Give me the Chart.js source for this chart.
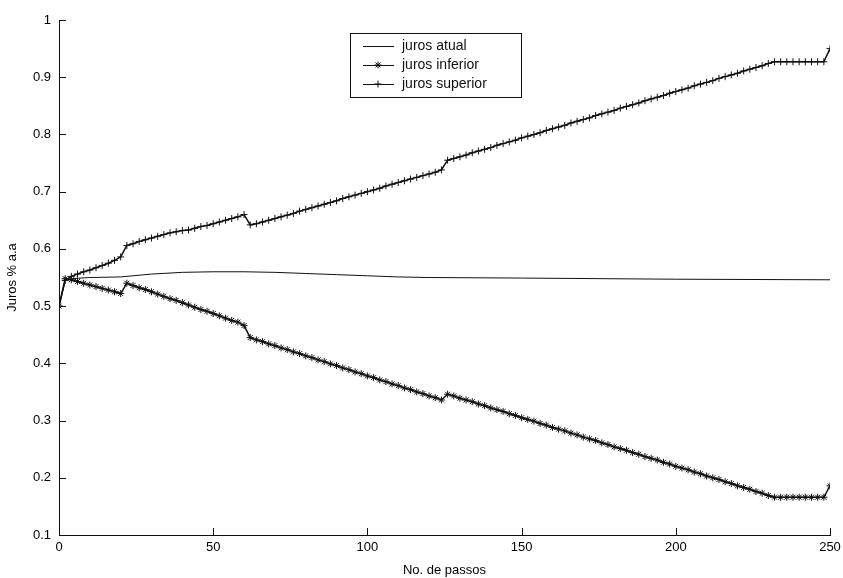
<!DOCTYPE html>
<html>
<head>
<meta charset="utf-8">
<script src="https://cdn.jsdelivr.net/npm/chart.js@4.4.0/dist/chart.umd.min.js"></script>
<style>
    html, body { margin: 0; padding: 0; background: #fff; }
    .wrap { width: 843px; height: 578px; position: relative; }
</style>
</head>
<body>
<div class="wrap"><canvas id="jurosChart"></canvas></div>
<script>
// passos 0, 2, 4 ... 250
const passos = Array.from({length: 126}, (_, i) => i * 2);

const jurosSuperior = [
    0.500, 0.545, 0.552, 0.556, 0.560, 0.563, 0.567, 0.571, 0.575, 0.580,
    0.586, 0.606, 0.609, 0.613, 0.616, 0.619, 0.622, 0.625, 0.628, 0.630,
    0.632, 0.633, 0.636, 0.639, 0.641, 0.644, 0.647, 0.650, 0.653, 0.656,
    0.660, 0.642, 0.644, 0.647, 0.650, 0.653, 0.656, 0.659, 0.662, 0.666,
    0.669, 0.672, 0.675, 0.678, 0.681, 0.684, 0.688, 0.691, 0.694, 0.697,
    0.700, 0.703, 0.706, 0.710, 0.713, 0.716, 0.719, 0.722, 0.725, 0.728,
    0.731, 0.734, 0.738, 0.755, 0.758, 0.761, 0.764, 0.768, 0.771, 0.774,
    0.777, 0.781, 0.784, 0.787, 0.790, 0.794, 0.797, 0.800, 0.803, 0.807,
    0.810, 0.813, 0.816, 0.820, 0.823, 0.826, 0.829, 0.833, 0.836, 0.839,
    0.842, 0.846, 0.849, 0.852, 0.855, 0.859, 0.862, 0.865, 0.868, 0.872,
    0.875, 0.878, 0.881, 0.885, 0.888, 0.891, 0.894, 0.898, 0.901, 0.904,
    0.907, 0.911, 0.914, 0.917, 0.920, 0.924, 0.927, 0.927, 0.927, 0.927,
    0.927, 0.927, 0.927, 0.927, 0.927, 0.950
];

const jurosInferior = [
    0.500, 0.548, 0.546, 0.543, 0.540, 0.537, 0.534, 0.531, 0.528, 0.525,
    0.522, 0.540, 0.536, 0.532, 0.529, 0.525, 0.521, 0.517, 0.513, 0.510,
    0.506, 0.502, 0.498, 0.494, 0.491, 0.487, 0.483, 0.479, 0.475, 0.472,
    0.466, 0.445, 0.441, 0.438, 0.434, 0.431, 0.427, 0.424, 0.420, 0.417,
    0.413, 0.410, 0.406, 0.403, 0.399, 0.396, 0.392, 0.389, 0.385, 0.382,
    0.378, 0.375, 0.371, 0.368, 0.364, 0.361, 0.357, 0.354, 0.350, 0.347,
    0.343, 0.340, 0.336, 0.346, 0.343, 0.339, 0.336, 0.333, 0.329, 0.326,
    0.322, 0.319, 0.316, 0.312, 0.309, 0.305, 0.302, 0.299, 0.295, 0.292,
    0.288, 0.285, 0.282, 0.278, 0.275, 0.271, 0.268, 0.265, 0.261, 0.258,
    0.254, 0.251, 0.248, 0.244, 0.241, 0.237, 0.234, 0.231, 0.227, 0.224,
    0.220, 0.217, 0.214, 0.210, 0.207, 0.203, 0.200, 0.197, 0.193, 0.190,
    0.186, 0.183, 0.180, 0.176, 0.173, 0.169, 0.166, 0.166, 0.166, 0.166,
    0.166, 0.166, 0.166, 0.166, 0.166, 0.186
];

// juros atual: thin line, read at a few steps
const passosAtual = [0, 2, 4, 10, 20, 30, 40, 50, 60, 70, 80, 90, 100, 110, 120, 150, 200, 250];
const jurosAtual = [0.500, 0.545, 0.548, 0.550, 0.551, 0.556, 0.559, 0.560, 0.560, 0.559,
                    0.557, 0.555, 0.553, 0.551, 0.550, 0.549, 0.547, 0.546];

const xTicks = [0, 50, 100, 150, 200, 250];
const yTicks = [0.1, 0.2, 0.3, 0.4, 0.5, 0.6, 0.7, 0.8, 0.9, 1];

const ink = '#111';
const fontFamily = '"Liberation Sans", Arial, sans-serif';

function pares(xs, ys) {
    return xs.map((x, i) => ({x: x, y: ys[i]}));
}

// tick marks pointing into the plot, matlab style
const innerTicks = {
    id: 'innerTicks',
    afterDraw(chart) {
        const {ctx, chartArea, scales} = chart;
        ctx.save();
        ctx.strokeStyle = ink;
        ctx.lineWidth = 1;
        ctx.beginPath();
        scales.x.ticks.forEach(t => {
            const px = Math.round(scales.x.getPixelForValue(t.value)) + 0.5;
            ctx.moveTo(px, chartArea.bottom);
            ctx.lineTo(px, chartArea.bottom - 7);
        });
        scales.y.ticks.forEach(t => {
            const py = Math.round(scales.y.getPixelForValue(t.value)) + 0.5;
            ctx.moveTo(chartArea.left, py);
            ctx.lineTo(chartArea.left + 7, py);
        });
        ctx.stroke();
        ctx.restore();
    }
};

// boxed legend inside the plot
const boxLegend = {
    id: 'boxLegend',
    afterDraw(chart) {
        const ctx = chart.ctx;
        const left = 350, top = 33, w = 171, h = 64;
        ctx.save();
        ctx.fillStyle = '#fff';
        ctx.fillRect(left, top, w, h);
        ctx.strokeStyle = ink;
        ctx.lineWidth = 1;
        ctx.strokeRect(left + 0.5, top + 0.5, w, h);
        ctx.font = '14px ' + fontFamily;
        ctx.textBaseline = 'middle';
        chart.data.datasets.forEach((ds, i) => {
            const y = top + 13 + i * 19;
            ctx.strokeStyle = ink;
            ctx.beginPath();
            ctx.moveTo(left + 13, y + 0.5);
            ctx.lineTo(left + 44, y + 0.5);
            ctx.stroke();
            if (ds.pointRadius > 0) {
                Chart.helpers.drawPoint(ctx, {pointStyle: ds.pointStyle, radius: 3.5, rotation: 0, borderWidth: 1}, left + 28, y);
            }
            ctx.fillStyle = ink;
            ctx.fillText(ds.label, left + 52, y);
        });
        ctx.restore();
    }
};

document.addEventListener('DOMContentLoaded', function () {
    const canvas = document.getElementById('jurosChart');

    new Chart(canvas, {
        type: 'line',
        data: {
            datasets: [{
                    label: 'juros atual',
                    data: pares(passosAtual, jurosAtual),
                    borderColor: ink,
                    borderWidth: 1,
                    pointRadius: 0
                }, {
                    label: 'juros inferior',
                    data: pares(passos, jurosInferior),
                    borderColor: ink,
                    borderWidth: 1.5,
                    pointStyle: 'star',
                    pointRadius: 3.5,
                    pointBorderColor: ink,
                    pointBorderWidth: 1
                }, {
                    label: 'juros superior',
                    data: pares(passos, jurosSuperior),
                    borderColor: ink,
                    borderWidth: 1.5,
                    pointStyle: 'cross',
                    pointRadius: 3.5,
                    pointBorderColor: ink,
                    pointBorderWidth: 1
                }]
        },
        options: {
            responsive: true,
            maintainAspectRatio: false,
            animation: false,
            layout: {padding: {top: 20, right: 13, left: 5, bottom: 0}},
            scales: {
                x: {
                    type: 'linear',
                    min: 0,
                    max: 250,
                    afterBuildTicks: s => { s.ticks = xTicks.map(v => ({value: v})); },
                    afterFit: s => { s.height = 43; s.paddingRight = 0; s.paddingLeft = 0; },
                    grid: {display: true, drawOnChartArea: false, drawTicks: false},
                    border: {display: true, color: ink, width: 1},
                    ticks: {color: '#000', padding: 5, font: {family: fontFamily, size: 13}},
                    title: {display: true, text: 'No. de passos', color: '#000', padding: {top: 2, bottom: 0}, font: {family: fontFamily, size: 13}}
                },
                y: {
                    min: 0.1,
                    max: 1,
                    afterBuildTicks: s => { s.ticks = yTicks.map(v => ({value: v})); },
                    afterFit: s => { s.width = 54; },
                    grid: {display: true, drawOnChartArea: false, drawTicks: false},
                    border: {display: true, color: ink, width: 1},
                    ticks: {color: '#000', padding: 8, font: {family: fontFamily, size: 13},
                        callback: v => String(Math.round(v * 10) / 10)},
                    title: {display: true, text: 'Juros % a.a', color: '#000', padding: {top: 0, bottom: 6}, font: {family: fontFamily, size: 13}}
                }
            },
            plugins: {
                legend: {display: false},
                tooltip: {enabled: false}
            }
        },
        plugins: [innerTicks, boxLegend]
    });
});
</script>
</body>
</html>
